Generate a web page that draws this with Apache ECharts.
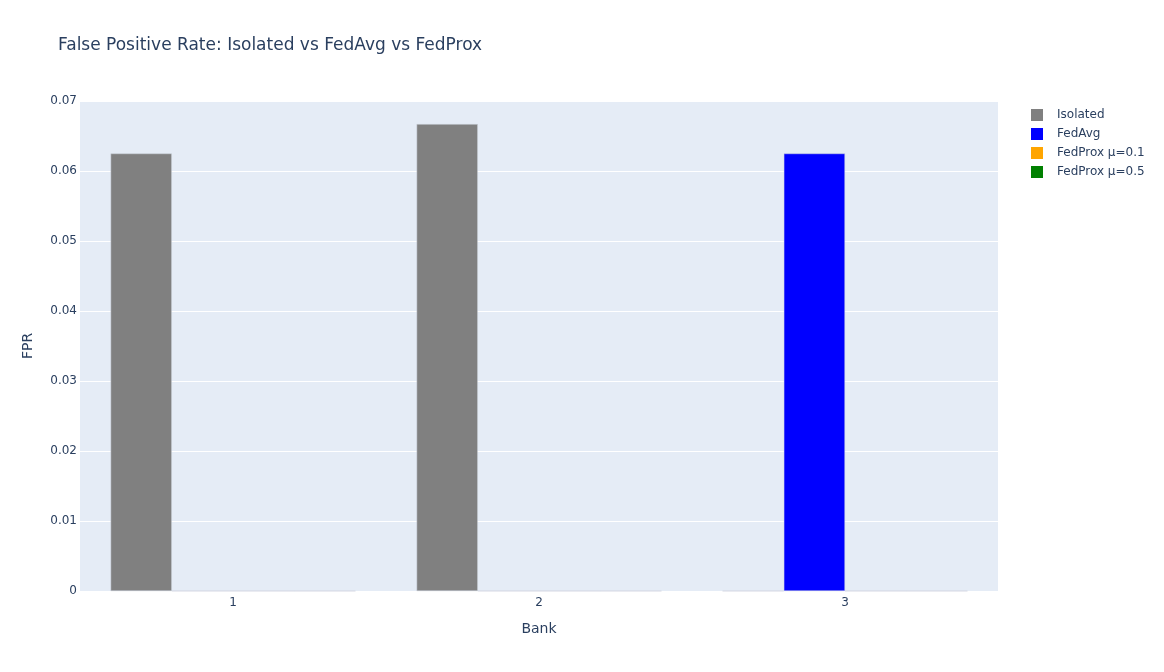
<!DOCTYPE html>
<html>
<head>
<meta charset="utf-8">
<script src="https://cdn.jsdelivr.net/npm/echarts@6/dist/echarts.min.js"></script>
<style>
html, body { margin: 0; padding: 0; background: #fff; }
#container { width: 1164px; height: 672px; }
</style>
</head>
<body>
<div id="container"></div>
<script>
var banks = ['1', '2', '3'];
var isolated = [0.0625, 0.0667, 0];
var fedAvg = [0, 0, 0.0625];
var fedProx01 = [0, 0, 0];
var fedProx05 = [0, 0, 0];

var dom = document.getElementById('container');
var myChart = echarts.init(dom);
var txt = '#2a3f5f';
var ff = 'DejaVu Sans, Verdana, sans-serif';

function bar(name, data, color) {
    return {
        name: name,
        type: 'bar',
        data: data,
        barGap: '0%',
        barCategoryGap: '20%',
        itemStyle: { color: color, borderColor: '#ccd3dd', borderWidth: 0.5 }
    };
}

var option = {
    backgroundColor: '#fff',
    title: {
        text: 'False Positive Rate: Isolated vs FedAvg vs FedProx',
        left: 53,
        top: 32,
        textStyle: { color: txt, fontSize: 17, fontWeight: 'normal', fontFamily: ff }
    },
    legend: {
        orient: 'vertical',
        left: 1026,
        top: 104,
        itemWidth: 12,
        itemHeight: 12,
        itemGap: 7,
        icon: 'rect',
        itemStyle: { borderWidth: 0 },
        textStyle: { color: txt, fontSize: 12, fontFamily: ff, padding: [0, 0, 0, 9] },
        data: ['Isolated', 'FedAvg', 'FedProx μ=0.1', 'FedProx μ=0.5']
    },
    grid: { left: 80, right: 166, top: 101, bottom: 81, backgroundColor: '#E5ECF6', show: true, borderWidth: 0 },
    xAxis: {
        type: 'category',
        data: banks,
        name: 'Bank',
        nameLocation: 'middle',
        nameGap: 31,
        nameTextStyle: { color: txt, fontSize: 14, fontFamily: ff },
        axisLine: { show: false },
        axisTick: { show: false },
        axisLabel: { color: txt, fontSize: 12, margin: 6, fontFamily: ff }
    },
    yAxis: {
        type: 'value',
        min: 0,
        max: 0.07,
        interval: 0.01,
        name: 'FPR',
        nameLocation: 'middle',
        nameGap: 45,
        nameTextStyle: { color: txt, fontSize: 14, fontFamily: ff },
        axisLine: { show: false },
        axisTick: { show: false },
        splitLine: { lineStyle: { color: '#fff', width: 1 } },
        axisLabel: { color: txt, fontSize: 12, margin: 3, fontFamily: ff }
    },
    series: [
        bar('Isolated', isolated, 'grey'),
        bar('FedAvg', fedAvg, 'blue'),
        bar('FedProx μ=0.1', fedProx01, 'orange'),
        bar('FedProx μ=0.5', fedProx05, 'green')
    ]
};
myChart.setOption(option);
</script>
</body>
</html>
